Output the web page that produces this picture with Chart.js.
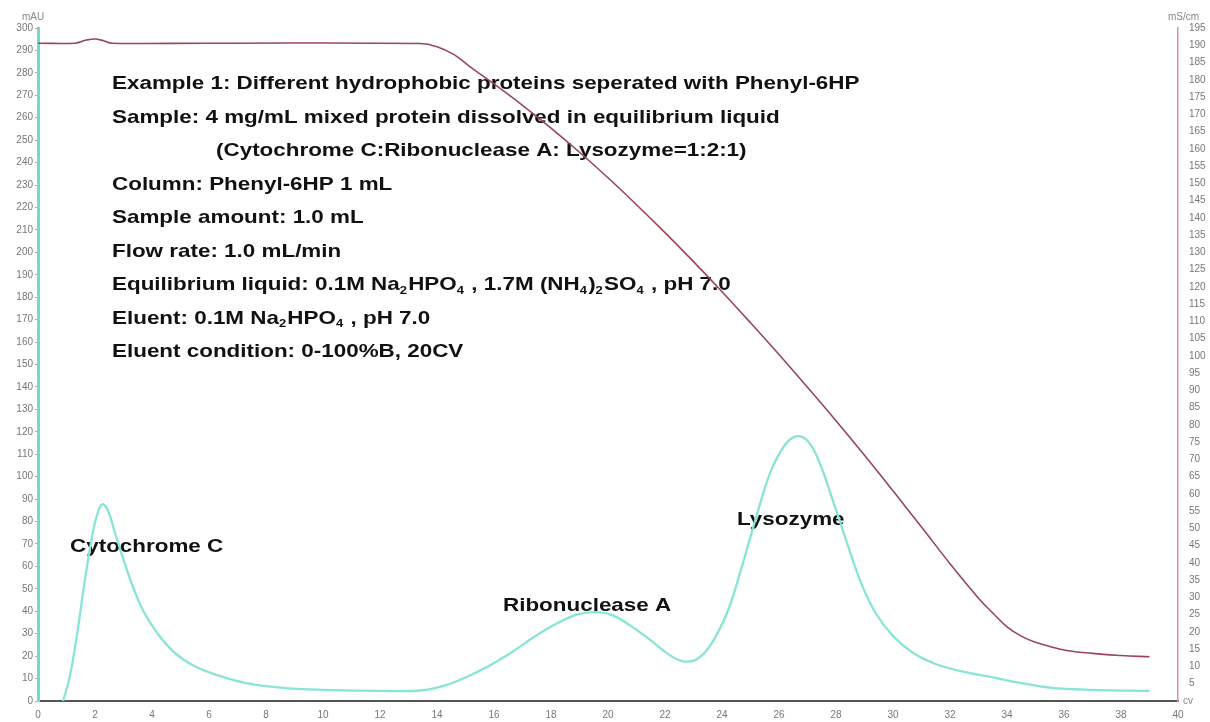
<!DOCTYPE html>
<html>
<head>
<meta charset="utf-8">
<script src="https://cdn.jsdelivr.net/npm/chart.js@4.4.0/dist/chart.umd.min.js"></script>
<style>
  html, body { margin: 0; padding: 0; background: #fff; }
</style>
</head>
<body>
<canvas id="chart" width="1210" height="722"></canvas>
<script>
/* =============================
   DATA
============================= */

// UV 280 nm trace, mAU (left axis)
const uvX = [0.88, 1.1, 1.35, 1.6, 1.85, 2.05, 2.25, 2.45, 2.7, 3.0, 3.3, 3.7, 4.2, 4.8, 5.5, 6.3, 7.3, 8.5, 10, 12,
             13.5, 14.3, 15.0, 15.8, 16.6, 17.4, 18.2, 18.9, 19.5, 20.1, 20.8, 21.5, 22.1, 22.6, 23.1, 23.6,
             24.2, 24.7, 25.2, 25.7, 26.2, 26.6, 27.0, 27.4, 27.9, 28.4, 28.9, 29.4, 30.0, 30.7, 31.5, 32.5,
             33.5, 34.5, 35.5, 37, 39];
const uvY = [0, 10, 28, 50, 70, 82, 87.7, 85, 75, 63, 52, 40, 30, 21.5, 15.5, 11.5, 8, 6, 5, 4.5,
             4.8, 7, 10.5, 15.5, 21.5, 28.5, 34.5, 38.5, 39.6, 38.5, 33.5, 27, 21, 17.8, 18.5, 25,
             40, 60, 82, 102, 114, 118, 116, 107, 89, 70, 52, 39, 29, 21.5, 16.5, 13,
             10.5, 8, 6, 5, 4.5];

// Conductivity trace, mS/cm (right axis)
const condX = [0, 1.3, 1.7, 2.0, 2.3, 2.6, 6, 13.4, 14.0, 14.6, 15.2, 16, 17, 18, 19, 20, 21, 22, 23, 24, 25, 26, 27, 28, 29,
               30, 31, 32, 33, 33.5, 34, 34.5, 35, 36, 37, 38, 39];
const condY = [190.6, 190.6, 191.5, 191.8, 191.3, 190.6, 190.6, 190.5, 189.6, 187.3, 183.5, 178.8, 172.6, 166, 159, 151.6, 143.8, 135.7, 127.3, 118.6, 109.6, 100.4, 90.9, 81.2, 71.2,
               60.9, 50.4, 39.8, 29.8, 25.5, 21.5, 18.8, 17, 14.8, 13.8, 13.2, 12.8];

// peak names
const peakNames = ["Cytochrome C", "Ribonuclease A", "Lysozyme"];

// method notes (_n = subscript digit)
const noteLines = [
    "Example 1: Different hydrophobic proteins seperated with Phenyl-6HP",
    "Sample: 4 mg/mL mixed protein dissolved in equilibrium liquid",
    "(Cytochrome C:Ribonuclease A: Lysozyme=1:2:1)",
    "Column: Phenyl-6HP 1 mL",
    "Sample amount: 1.0 mL",
    "Flow rate: 1.0 mL/min",
    "Equilibrium liquid: 0.1M Na_2HPO_4 , 1.7M (NH_4)_2SO_4 , pH 7.0",
    "Eluent: 0.1M Na_2HPO_4 , pH 7.0",
    "Eluent condition: 0-100%B, 20CV"
];

/* =============================
   TEXT HELPERS
============================= */

const TEXT_FONT = '"Liberation Sans", Arial, sans-serif';
const STRETCH = 1.18;

function drawRich(ctx, text, x, y, size) {
    const parts = text.split(/_(\d)/);
    ctx.save();
    ctx.translate(x, y);
    ctx.scale(STRETCH, 1);
    let cx = 0;
    parts.forEach((p, i) => {
        const sub = i % 2 === 1;
        ctx.font = "bold " + (sub ? Math.round(size * 0.6) : size) + "px " + TEXT_FONT;
        ctx.fillText(p, cx, sub ? size * 0.3 : 0);
        cx += ctx.measureText(p).width + (sub ? 1 : 0);
    });
    ctx.restore();
}

const notePlugin = {
    id: "notes",
    beforeDatasetsDraw(chart) {
        const ctx = chart.ctx;
        ctx.save();
        ctx.fillStyle = "#111";
        ctx.textBaseline = "middle";
        ctx.textAlign = "left";
        noteLines.forEach((line, i) => {
            drawRich(ctx, line, i === 2 ? 216 : 112, 84 + i * 33.5, 19);
        });
        drawRich(ctx, peakNames[0], 70, 547, 19);
        drawRich(ctx, peakNames[1], 503, 606, 19);
        drawRich(ctx, peakNames[2], 737, 520, 19);

        // axis units
        ctx.fillStyle = "#888";
        ctx.font = "10px " + TEXT_FONT;
        ctx.fillText("mAU", 22, 17);
        ctx.fillText("mS/cm", 1168, 17);
        ctx.fillText("cv", 1183, 701);
        ctx.restore();
    }
};

/* =============================
   CHART
============================= */

const tickFont = { family: TEXT_FONT, size: 10 };

new Chart(document.getElementById("chart"), {
    type: "line",
    data: {
        datasets: [{
            label: "Conductivity",
            data: condX.map((x, i) => ({ x: x, y: condY[i] })),
            yAxisID: "y2",
            borderColor: "#9a4658",
            borderWidth: 1.6,
            pointRadius: 0,
            tension: 0.4
        }, {
            label: "UV",
            data: uvX.map((x, i) => ({ x: x, y: uvY[i] })),
            yAxisID: "y",
            borderColor: "#88e4d8",
            borderWidth: 2.3,
            pointRadius: 0,
            tension: 0.4
        }]
    },
    options: {
        responsive: false,
        animation: false,
        layout: { padding: { top: 28 } },
        plugins: {
            legend: { display: false },
            tooltip: { enabled: false }
        },
        scales: {
            x: {
                type: "linear",
                min: 0,
                max: 40,
                ticks: { stepSize: 2, color: "#777", font: tickFont, padding: 0, maxRotation: 0 },
                grid: { display: false },
                border: { color: "#555", width: 2 },
                afterFit: s => { s.height = 21; }
            },
            y: {
                position: "left",
                min: 0,
                max: 300,
                ticks: { stepSize: 10, color: "#777", font: tickFont, padding: 2 },
                grid: { drawOnChartArea: false, color: "#aaa", tickLength: 3 },
                border: { color: "#6fdad0", width: 3 },
                afterFit: s => { s.width = 38; }
            },
            y2: {
                position: "right",
                min: 0,
                max: 195,
                ticks: {
                    stepSize: 5, color: "#777", font: tickFont, padding: 3,
                    callback: v => v === 0 ? "" : v
                },
                grid: { drawOnChartArea: false, display: false },
                border: { color: "#d892a8", width: 1.5 },
                afterFit: s => { s.width = 32; }
            }
        }
    },
    plugins: [notePlugin]
});
</script>
</body>
</html>
